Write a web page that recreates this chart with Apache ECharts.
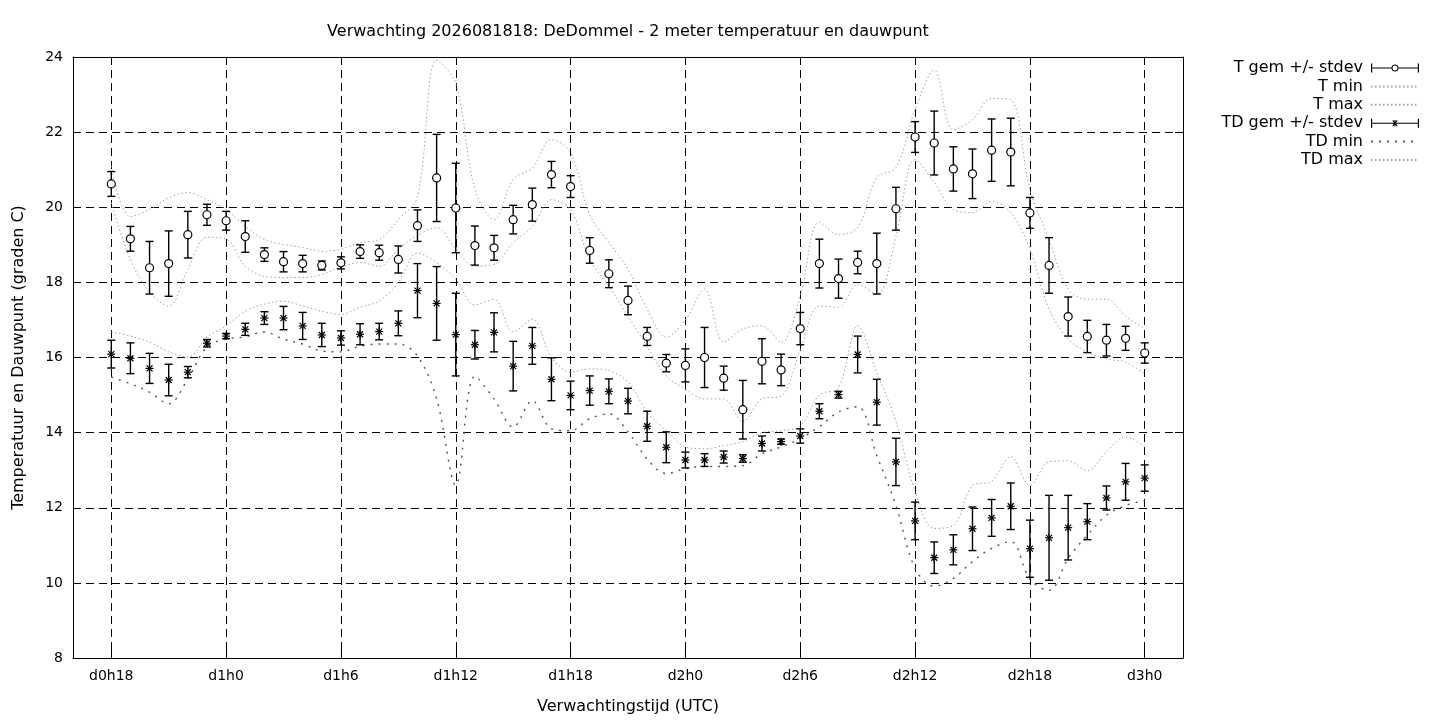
<!DOCTYPE html>
<html>
<head>
<meta charset="utf-8">
<script src="https://cdn.jsdelivr.net/npm/echarts@6/dist/echarts.min.js"></script>
<style>
html, body { margin: 0; padding: 0; background: #fff; }
#chart { width: 1440px; height: 720px; }
</style>
</head>
<body>
<div id="chart"></div>
<script>
// hours after d0h18
const hours = [0, 1, 2, 3, 4, 5, 6, 7, 8, 9, 10, 11, 12, 13, 14, 15, 16, 17, 18, 19,
  20, 21, 22, 23, 24, 25, 26, 27, 28, 29, 30, 31, 32, 33, 34, 35, 36, 37, 38, 39,
  40, 41, 42, 43, 44, 45, 46, 47, 48, 49, 50, 51, 52, 53, 54];

const tMean = [20.62, 19.16, 18.39, 18.5, 19.27, 19.8, 19.64, 19.22, 18.74, 18.55,
  18.5, 18.45, 18.52, 18.82, 18.79, 18.61, 19.51, 20.78, 19.98, 18.98,
  18.92, 19.67, 20.07, 20.87, 20.55, 18.85, 18.23, 17.52, 16.56, 15.85,
  15.79, 16.0, 15.45, 14.61, 15.9, 15.67, 16.77, 18.5, 18.1, 18.53,
  18.5, 19.96, 21.87, 21.71, 21.02, 20.89, 21.52, 21.47, 19.85, 18.45,
  17.09, 16.56, 16.46, 16.51, 16.12];
const tStd = [0.33, 0.33, 0.7, 0.87, 0.62, 0.28, 0.25, 0.42, 0.18, 0.27,
  0.22, 0.12, 0.16, 0.18, 0.2, 0.36, 0.42, 1.16, 1.19, 0.52,
  0.33, 0.38, 0.44, 0.35, 0.29, 0.34, 0.37, 0.38, 0.24, 0.23,
  0.44, 0.8, 0.32, 0.78, 0.6, 0.42, 0.43, 0.65, 0.52, 0.3,
  0.81, 0.57, 0.41, 0.85, 0.59, 0.66, 0.83, 0.9, 0.41, 0.74,
  0.52, 0.43, 0.42, 0.32, 0.27];
const tMin = [20.12, 18.61, 17.74, 17.37, 18.35, 19.2, 19.15, 18.43, 18.16, 18.13,
  18.13, 18.21, 18.4, 18.53, 18.43, 18.88, 19.25, 19.46, 18.88, 18.43,
  18.48, 19.06, 19.49, 20.2, 19.94, 18.61, 17.9, 17.1, 16.3, 15.51,
  15.16, 14.9, 14.9, 14.29, 14.9, 14.97, 16.2, 17.37, 17.34, 17.95,
  17.68, 19.22, 21.27, 20.66, 19.94, 19.86, 20.15, 19.86, 18.88, 17.29,
  16.49, 16.15, 15.96, 15.88, 15.56];
const tMax = [21.1, 19.75, 19.94, 20.25, 20.39, 20.2, 19.94, 19.49, 19.14, 19.01,
  18.93, 18.83, 18.88, 19.06, 19.14, 19.67, 20.28, 23.92, 23.3, 20.47,
  19.67, 20.74, 21.05, 21.8, 21.45, 19.8, 19.06, 18.35, 17.29, 16.54,
  17.0, 17.82, 16.41, 16.76, 16.84, 16.41, 17.64, 19.6, 19.27, 19.46,
  20.8, 21.05, 22.6, 23.65, 22.06, 22.33, 22.9, 22.86, 20.47, 19.14,
  17.82, 17.55, 17.55, 17.1, 16.76];

const tdMean = [16.09, 15.98, 15.71, 15.4, 15.61, 16.38, 16.57, 16.75, 17.05, 17.05,
  16.84, 16.6, 16.52, 16.62, 16.69, 16.91, 17.78, 17.44, 16.61, 16.34,
  16.67, 15.77, 16.31, 15.42, 14.99, 15.12, 15.1, 14.84, 14.17, 13.61,
  13.27, 13.27, 13.35, 13.31, 13.71, 13.76, 13.91, 14.57, 15.01, 16.08,
  14.81, 13.22, 11.65, 10.67, 10.88, 11.44, 11.73, 12.04, 10.91, 11.2,
  11.47, 11.63, 12.26, 12.69, 12.79];
const tdStd = [0.37, 0.41, 0.4, 0.42, 0.15, 0.1, 0.07, 0.16, 0.17, 0.31,
  0.36, 0.31, 0.19, 0.28, 0.22, 0.33, 0.72, 0.98, 1.1, 0.38,
  0.52, 0.66, 0.49, 0.57, 0.38, 0.39, 0.33, 0.34, 0.4, 0.41,
  0.21, 0.17, 0.16, 0.1, 0.2, 0.07, 0.19, 0.2, 0.09, 0.49,
  0.61, 0.63, 0.5, 0.42, 0.4, 0.58, 0.49, 0.62, 0.76, 1.13,
  0.86, 0.48, 0.32, 0.49, 0.35];
const tdMin = [15.48, 15.3, 15.08, 14.77, 15.43, 16.28, 16.49, 16.55, 16.68, 16.49,
  16.36, 16.17, 16.15, 16.3, 16.36, 16.36, 16.04, 14.9, 12.6, 15.5,
  14.9, 14.15, 14.85, 14.1, 14.05, 14.37, 14.5, 14.02, 13.3, 12.91,
  13.04, 13.1, 13.1, 13.12, 13.44, 13.62, 13.84, 14.16, 14.55, 14.69,
  13.39, 12.06, 10.39, 9.91, 10.12, 10.57, 10.92, 11.1, 10.1, 9.8,
  10.65, 11.27, 11.8, 12.06, 12.19];
const tdMax = [16.68, 16.57, 16.41, 16.15, 16.01, 16.54, 16.84, 17.23, 17.42, 17.5,
  17.37, 17.23, 17.15, 17.34, 17.5, 18.0, 18.78, 18.53, 18.08, 17.4,
  17.55, 16.68, 17.02, 16.01, 15.61, 15.7, 15.65, 15.35, 14.55, 14.05,
  13.62, 13.57, 13.65, 13.76, 14.0, 14.05, 14.18, 15.0, 15.2, 16.84,
  15.6, 14.3, 12.43, 11.45, 11.53, 12.59, 12.7, 13.36, 12.59, 13.22,
  13.25, 12.99, 13.49, 13.89, 13.62];

const tickHours = [0, 6, 12, 18, 24, 30, 36, 42, 48, 54];
const tickLabels = ['d0h18', 'd1h0', 'd1h6', 'd1h12', 'd1h18', 'd2h0', 'd2h6', 'd2h12', 'd2h18', 'd3h0'];

const FONT = 'DejaVu Sans';
const TITLE = 'Verwachting 2026081818: DeDommel - 2 meter temperatuur en dauwpunt';

const T_ICON = 'path://M0,0 H1.2 V9 H0 Z M1.2,4 H20.5 V5 H1.2 Z ' +
  'M27.5,4.5 A3.5,3.5 0 1,1 20.5,4.5 A3.5,3.5 0 1,1 27.5,4.5 Z ' +
  'M26.5,4.5 A2.5,2.5 0 1,0 21.5,4.5 A2.5,2.5 0 1,0 26.5,4.5 Z ' +
  'M27.5,4 H46.8 V5 H27.5 Z M46.8,0 H48 V9 H46.8 Z';
const TD_ICON = 'path://M0,0 H1.2 V9 H0 Z M1.2,4 H46.8 V5 H1.2 Z M46.8,0 H48 V9 H46.8 Z ' +
  'M23.5,1.2 H24.5 V7.8 H23.5 Z M21.4,2 L22.1,1.3 L26.6,7 L25.9,7.7 Z M25.9,1.3 L26.6,2 L22.1,7.7 L21.4,7 Z';

function errorBars(marker) {
  return function (params, api) {
    const x = api.value(0), m = api.value(1), s = api.value(2);
    const top = api.coord([x, m + s]);
    const bot = api.coord([x, m - s]);
    const c = api.coord([x, m]);
    const cap = 4;
    const st = { stroke: '#000', lineWidth: 1.4 };
    const kids = [
      { type: 'line', shape: { x1: top[0], y1: top[1], x2: bot[0], y2: bot[1] }, style: st },
      { type: 'line', shape: { x1: top[0] - cap, y1: top[1], x2: top[0] + cap, y2: top[1] }, style: st },
      { type: 'line', shape: { x1: bot[0] - cap, y1: bot[1], x2: bot[0] + cap, y2: bot[1] }, style: st }
    ];
    if (marker === 'circle') {
      kids.push({ type: 'circle', shape: { cx: c[0], cy: c[1], r: 4 }, style: { fill: '#fff', stroke: '#000', lineWidth: 1.2 } });
    } else {
      const a = 4, d = 3;
      const ss = { stroke: '#000', lineWidth: 1.2 };
      kids.push(
        { type: 'line', shape: { x1: c[0] - a, y1: c[1], x2: c[0] + a, y2: c[1] }, style: ss },
        { type: 'line', shape: { x1: c[0], y1: c[1] - a, x2: c[0], y2: c[1] + a }, style: ss },
        { type: 'line', shape: { x1: c[0] - d, y1: c[1] - d, x2: c[0] + d, y2: c[1] + d }, style: ss },
        { type: 'line', shape: { x1: c[0] - d, y1: c[1] + d, x2: c[0] + d, y2: c[1] - d }, style: ss }
      );
    }
    return { type: 'group', children: kids };
  };
}

function dotted(name, values, color, dash, width) {
  return {
    name: name,
    type: 'line',
    data: hours.map((h, i) => [h, values[i]]),
    smooth: 0.35,
    symbol: 'none',
    color: color,
    lineStyle: { color: color, width: width, type: dash },
    silent: true,
    z: 2
  };
}

const frameLine = { show: true, onZero: false, lineStyle: { color: '#000', width: 1 } };
const frameTick = { show: true, inside: true, length: 8, lineStyle: { color: '#000' } };

const chart = echarts.init(document.getElementById('chart'), null, { renderer: 'canvas' });

chart.setOption({
  animation: false,
  backgroundColor: '#fff',
  textStyle: { fontFamily: FONT },
  title: {
    text: TITLE,
    left: 623,
    top: 19,
    textAlign: 'center',
    textStyle: { fontFamily: FONT, fontSize: 16, fontWeight: 'normal', color: '#000' }
  },
  grid: { left: 73, right: 257, top: 57, bottom: 60 },
  legend: {
    orient: 'vertical',
    right: 15,
    top: 55,
    align: 'right',
    itemWidth: 48,
    itemHeight: 9,
    itemGap: 2.4,
    selectedMode: false,
    textStyle: { fontFamily: FONT, fontSize: 16, color: '#000', lineHeight: 16, padding: [0, 3, 0, 0] },
    data: [
      { name: 'T gem +/- stdev', icon: T_ICON, itemStyle: { color: '#000' } },
      { name: 'T min', itemStyle: { opacity: 0 } },
      { name: 'T max', itemStyle: { opacity: 0 } },
      { name: 'TD gem +/- stdev', icon: TD_ICON, itemStyle: { color: '#000' } },
      { name: 'TD min', itemStyle: { opacity: 0 } },
      { name: 'TD max', itemStyle: { opacity: 0 } }
    ]
  },
  xAxis: [{
    type: 'value',
    min: -2,
    max: 56,
    position: 'bottom',
    name: 'Verwachtingstijd (UTC)',
    nameLocation: 'middle',
    nameGap: 41,
    nameTextStyle: { fontFamily: FONT, fontSize: 16, color: '#000' },
    axisLine: frameLine,
    axisTick: Object.assign({ customValues: tickHours }, frameTick),
    axisLabel: {
      customValues: tickHours,
      formatter: v => tickLabels[tickHours.indexOf(v)] || '',
      fontFamily: FONT, fontSize: 14, color: '#000', margin: 11
    },
    splitLine: { show: true, lineStyle: { color: '#000', width: 1, type: [8, 5] } }
  }, {
    type: 'value',
    min: -2,
    max: 56,
    position: 'top',
    axisLine: frameLine,
    axisTick: Object.assign({ customValues: tickHours }, frameTick),
    axisLabel: { show: false, customValues: tickHours },
    splitLine: { show: false }
  }],
  yAxis: [{
    type: 'value',
    min: 8,
    max: 24,
    interval: 2,
    position: 'left',
    name: 'Temperatuur en Dauwpunt (graden C)',
    nameLocation: 'middle',
    nameGap: 46,
    nameTextStyle: { fontFamily: FONT, fontSize: 16, color: '#000' },
    axisLine: frameLine,
    axisTick: frameTick,
    axisLabel: { fontFamily: FONT, fontSize: 14, color: '#000', margin: 10 },
    splitLine: { show: true, lineStyle: { color: '#000', width: 1, type: [8, 5] } }
  }, {
    type: 'value',
    min: 8,
    max: 24,
    interval: 2,
    position: 'right',
    axisLine: frameLine,
    axisTick: frameTick,
    axisLabel: { show: false },
    splitLine: { show: false }
  }],
  series: [
    dotted('T min', tMin, '#a0a0a0', [1.5, 2.5], 1),
    dotted('T max', tMax, '#a0a0a0', [1.5, 2.5], 1),
    dotted('TD min', tdMin, '#555', [2, 6], 1.4),
    dotted('TD max', tdMax, '#a0a0a0', [1.5, 2.5], 1),
    {
      name: 'T gem +/- stdev',
      type: 'custom',
      renderItem: errorBars('circle'),
      data: hours.map((h, i) => [h, tMean[i], tStd[i]]),
      encode: { x: 0, y: 1 },
      color: '#000',
      silent: true,
      z: 5
    },
    {
      name: 'TD gem +/- stdev',
      type: 'custom',
      renderItem: errorBars('star'),
      data: hours.map((h, i) => [h, tdMean[i], tdStd[i]]),
      encode: { x: 0, y: 1 },
      color: '#000',
      silent: true,
      z: 5
    }
  ]
});
</script>
</body>
</html>
